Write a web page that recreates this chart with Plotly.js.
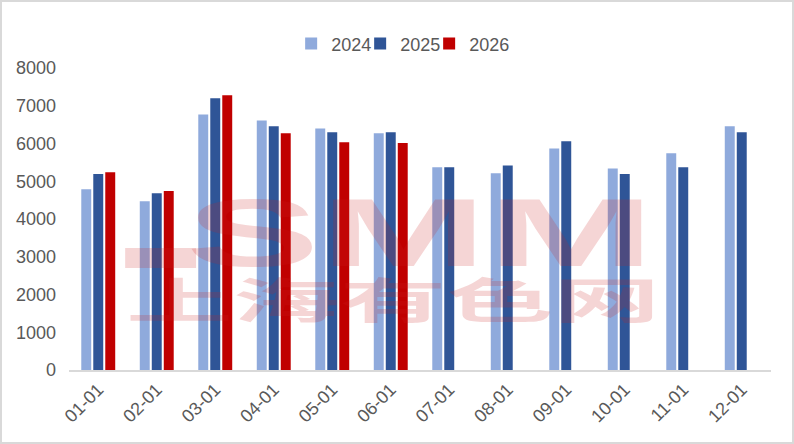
<!DOCTYPE html>
<html>
<head>
<meta charset="utf-8">
<script src="https://cdn.plot.ly/plotly-3.0.1.min.js"></script>
<style>
  body { margin: 0; background: #fff; }
  #chart { width: 790px; height: 440px; border: 2px solid #d9d9d9; }
</style>
</head>
<body>
<div id="chart"></div>
<script>
// monthly values
var months = ["01-01", "02-01", "03-01", "04-01", "05-01", "06-01",
              "07-01", "08-01", "09-01", "10-01", "11-01", "12-01"];
var y2024 = [4790, 4470, 6770, 6610, 6400, 6270, 5370, 5210, 5870, 5340, 5740, 6460];
var y2025 = [5190, 4680, 7200, 6460, 6300, 6300, 5370, 5420, 6060, 5190, 5370, 6300];
var y2026 = [5240, 4740, 7280, 6270, 6030, 6010, null, null, null, null, null, null];

var seriesNames = ["2024", "2025", "2026"];
var seriesColors = ["#8faadc", "#2f5597", "#c00000"];

// watermark text (SMM logo)
var markTop = "SMM";
var markBottom = "上海有色网";

function barTrace(name, values, color, lw) {
  var t = {
    name: name,
    type: "bar",
    x: months,
    y: values,
    marker: {color: color},
    hoverinfo: "x+y+name",
  };
  if (lw) t.legendwidth = lw;
  return t;
}

var traces = [
  barTrace(seriesNames[0], y2024, seriesColors[0], 24),
  barTrace(seriesNames[1], y2025, seriesColors[1], 24),
  barTrace(seriesNames[2], y2026, seriesColors[2]),
];

var wmColor = "rgba(200,30,30,0.19)";

var layout = {
  width: 790,
  height: 440,
  margin: {l: 67, r: 21, t: 66, b: 72},
  paper_bgcolor: "#ffffff",
  plot_bgcolor: "#ffffff",
  font: {family: "Liberation Sans, Arial, sans-serif", size: 18, color: "#595959"},
  barmode: "group",
  bargap: 0.385,
  bargroupgap: 0.17,
  showlegend: true,
  legend: {
    orientation: "h",
    x: 0.476, xanchor: "center",
    y: 1.08, yanchor: "middle",
    font: {size: 18, color: "#595959"},
    itemwidth: 30,
  },
  xaxis: {
    type: "category",
    tickangle: -45,
    showgrid: false,
    showline: true,
    linecolor: "#d9d9d9",
    linewidth: 2,
    ticks: "",
    tickfont: {size: 18, color: "#595959"},
  },
  yaxis: {
    range: [0, 8000],
    dtick: 1000,
    showgrid: false,
    zeroline: false,
    showline: false,
    ticks: "",
    ticklabelstandoff: 12,
    tickfont: {size: 18, color: "#595959"},
  },
  annotations: [
    {
      text: "<b>" + markTop + "</b>",
      xref: "paper", yref: "paper", x: 0.5, y: 0.454,
      showarrow: false,
      font: {family: "Liberation Sans, Arial, sans-serif", size: 97, color: wmColor},
    },
    {
      text: "<b>" + markBottom + "</b>",
      xref: "paper", yref: "paper", x: 0.461, y: 0.118,
      showarrow: false,
      font: {family: "Noto Sans CJK SC, sans-serif", size: 48, color: wmColor},
    },
  ],
  shapes: [{
    type: "rect", xref: "paper", yref: "paper",
    x0: 0.08, x1: 0.181, y0: 0.338, y1: 0.404,
    fillcolor: wmColor, line: {width: 0},
  }],
};

// logo letters are stretched wide: widths as fractions of the plot width
var markWidths = [0.668, 0.761];

Plotly.newPlot("chart", traces, layout, {displayModeBar: false, staticPlot: true}).then(function(gd) {
  var pw = gd._fullLayout._size.w;
  var texts = gd.querySelectorAll(".annotation-text");
  texts.forEach(function(el, i) {
    var bb = el.getBBox();
    var s = pw * markWidths[i] / bb.width;
    var cx = bb.x + bb.width / 2;
    var prev = el.getAttribute("transform") || "";
    el.setAttribute("transform", prev + " translate(" + cx + ",0) scale(" + s + ",1) translate(" + (-cx) + ",0)");
  });
});
</script>
</body>
</html>
